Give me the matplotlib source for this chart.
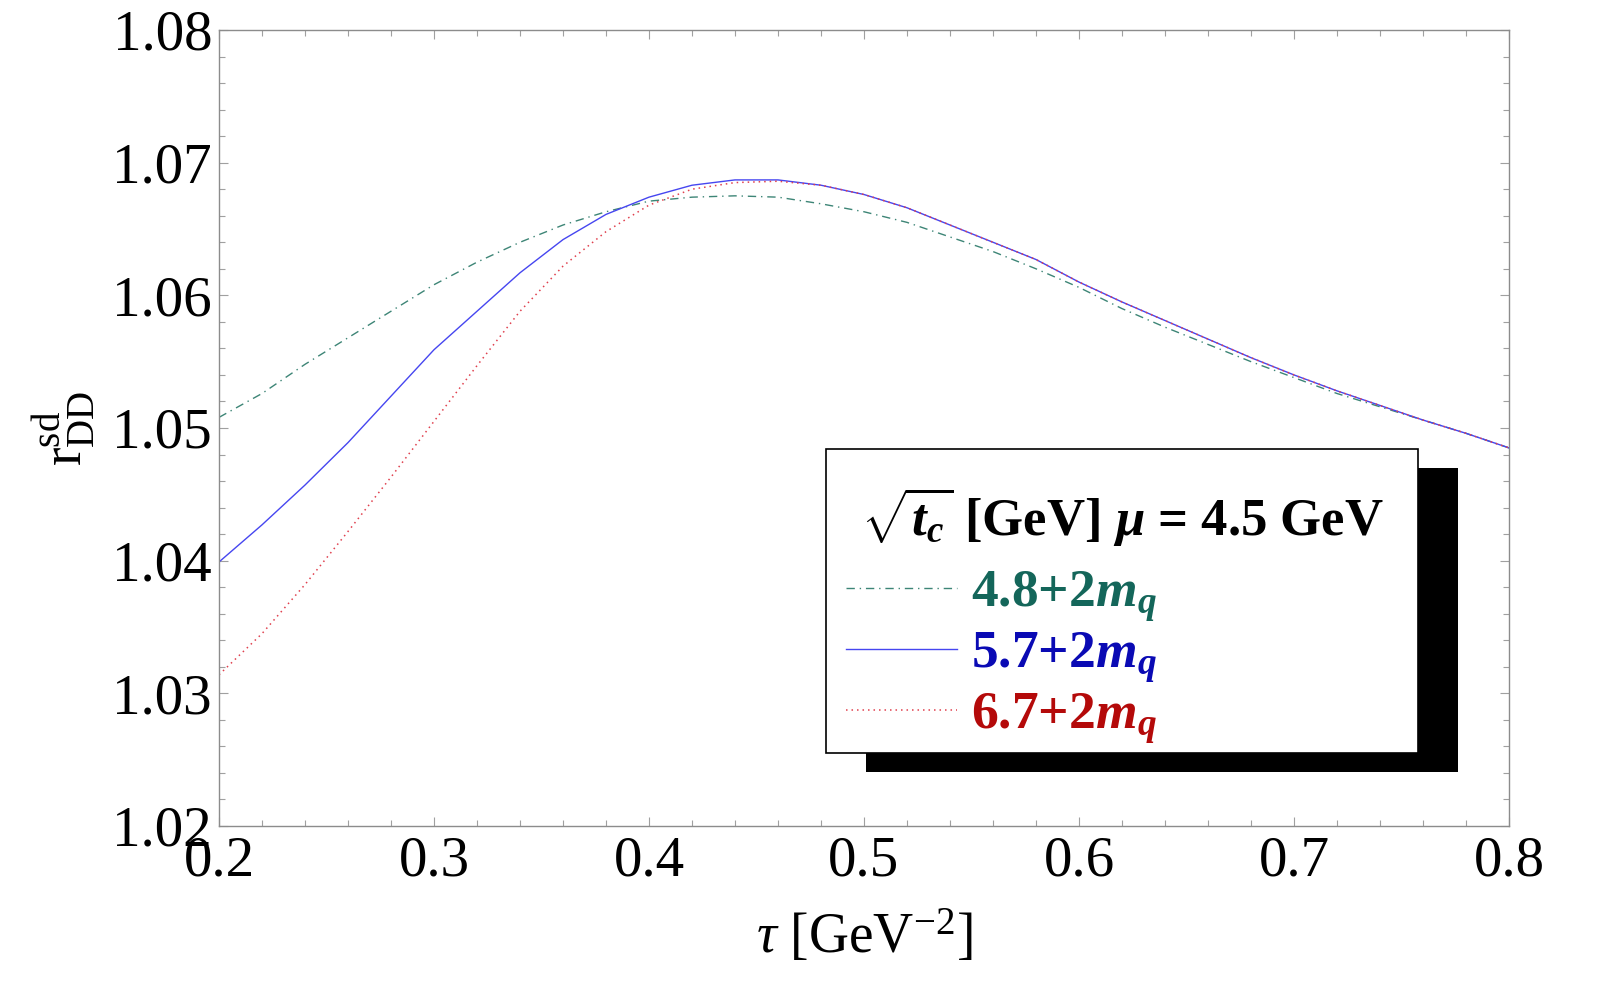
import numpy as np
import matplotlib
matplotlib.use("Agg")
import matplotlib.pyplot as plt
from matplotlib.ticker import MultipleLocator, FormatStrFormatter
from matplotlib.patches import Rectangle

plt.rcParams['font.family'] = ['Liberation Serif', 'DejaVu Serif']
plt.rcParams['mathtext.fontset'] = 'custom'
plt.rcParams['mathtext.rm'] = 'Liberation Serif'
plt.rcParams['mathtext.it'] = 'Liberation Serif:italic'
plt.rcParams['mathtext.bf'] = 'Liberation Serif:bold'
plt.rcParams['mathtext.bfit'] = 'Liberation Serif:italic:bold'

# ---- data ----
tau = [0.20, 0.22, 0.24, 0.26, 0.28, 0.30, 0.32, 0.34, 0.36, 0.38,
       0.40, 0.42, 0.44, 0.46, 0.48, 0.50, 0.52, 0.54, 0.56, 0.58,
       0.60, 0.62, 0.64, 0.66, 0.68, 0.70, 0.72, 0.74, 0.76, 0.78, 0.80]

r_48 = [1.0508, 1.0526, 1.0548, 1.0568, 1.0588, 1.0608, 1.0625, 1.0640, 1.0653, 1.0663,
        1.0671, 1.0674, 1.0675, 1.0674, 1.0669, 1.0663, 1.0655, 1.0644, 1.0633, 1.0620,
        1.0606, 1.0590, 1.0576, 1.0563, 1.0550, 1.0538, 1.0526, 1.0516, 1.0506, 1.0496, 1.0485]

r_57 = [1.0399, 1.0427, 1.0457, 1.0489, 1.0524, 1.0559, 1.0588, 1.0617, 1.0642, 1.0661,
        1.0674, 1.0683, 1.0687, 1.0687, 1.0683, 1.0676, 1.0666, 1.0653, 1.0640, 1.0627,
        1.0610, 1.0595, 1.0581, 1.0567, 1.0553, 1.0540, 1.0528, 1.0517, 1.0506, 1.0496, 1.0485]

r_67 = [1.0314, 1.0345, 1.0382, 1.0422, 1.0463, 1.0505, 1.0547, 1.0588, 1.0622, 1.0648,
        1.0668, 1.0680, 1.0685, 1.0686, 1.0683, 1.0676, 1.0666, 1.0653, 1.0640, 1.0627,
        1.0610, 1.0595, 1.0581, 1.0567, 1.0553, 1.0540, 1.0528, 1.0517, 1.0506, 1.0496, 1.0485]

labels = [r'4.8+2$\mathbfit{m}_{\mathbfit{q}}$',
          r'5.7+2$\mathbfit{m}_{\mathbfit{q}}$',
          r'6.7+2$\mathbfit{m}_{\mathbfit{q}}$']
legend_title = r'$\sqrt{\mathbfit{t}_{\mathbfit{c}}}$ [GeV] $\mathbfit{\mu}$ = 4.5 GeV'
line_colors = ['#3d8576', '#4646f0', '#e0404e']
text_colors = ['#14665a', '#0a0ab4', '#b40a0a']

# ---- figure ----
fig = plt.figure(figsize=(16.01, 10), dpi=100)
ax = fig.add_axes([219/1601, 1 - 826/1000, (1509 - 219)/1601, (826 - 30)/1000])

l1, = ax.plot(tau, r_48, color=line_colors[0], lw=1.0, dashes=(6, 3.5, 1, 3.5))
l2, = ax.plot(tau, r_57, color=line_colors[1], lw=1.0)
l3, = ax.plot(tau, r_67, color=line_colors[2], lw=1.1, dashes=(1, 2.6))

ax.set_xlim(0.2, 0.8)
ax.set_ylim(1.02, 1.08)
ax.xaxis.set_major_locator(MultipleLocator(0.1))
ax.xaxis.set_minor_locator(MultipleLocator(0.02))
ax.yaxis.set_major_locator(MultipleLocator(0.01))
ax.yaxis.set_minor_locator(MultipleLocator(0.002))
ax.xaxis.set_major_formatter(FormatStrFormatter('%.1f'))
ax.yaxis.set_major_formatter(FormatStrFormatter('%.2f'))

for s in ax.spines.values():
    s.set_color('#8c8c8c')
    s.set_linewidth(1.0)
ax.tick_params(which='both', direction='in', top=True, right=True, color='#a0a0a0', width=0.8)
ax.tick_params(which='major', length=6.5, labelsize=41, labelcolor='black')
ax.tick_params(which='minor', length=4)
ax.tick_params(axis='x', which='major', pad=7)
ax.tick_params(axis='y', which='major', pad=5)

ax.set_xlabel(r'$\tau$ [GeV$^{-2}$]', fontsize=40, labelpad=15)
ax.set_ylabel(r'$\mathrm{r}_{\mathrm{DD}}^{\mathrm{sd}}$', fontsize=40, labelpad=10)

# ---- legend: framed box with black drop shadow ----
fig.add_artist(Rectangle((866/1601, 1 - 772/1000), 592/1601, 304/1000,
                         transform=fig.transFigure, facecolor='black',
                         edgecolor='black', lw=0, zorder=2))
fig.add_artist(Rectangle((826/1601, 1 - 753/1000), 592/1601, 304/1000,
                         transform=fig.transFigure, facecolor='white',
                         edgecolor='black', lw=1.2, zorder=3))
fig.text(1122/1601, 1 - 517/1000, legend_title, ha='center', va='center',
         fontsize=38, fontweight='bold', zorder=6)

leg = fig.legend(handles=[l1, l2, l3], labels=labels, loc='upper left',
                 bbox_to_anchor=(846/1601, 1 - 569/1000),
                 bbox_transform=fig.transFigure, borderaxespad=0, borderpad=0,
                 prop=dict(family='Liberation Serif', weight='bold', size=38.5),
                 labelcolor=text_colors, handlelength=2.07, handletextpad=0.26,
                 labelspacing=0.12, frameon=False)
leg.set_zorder(7)

fig.savefig('out.png', dpi=100)
